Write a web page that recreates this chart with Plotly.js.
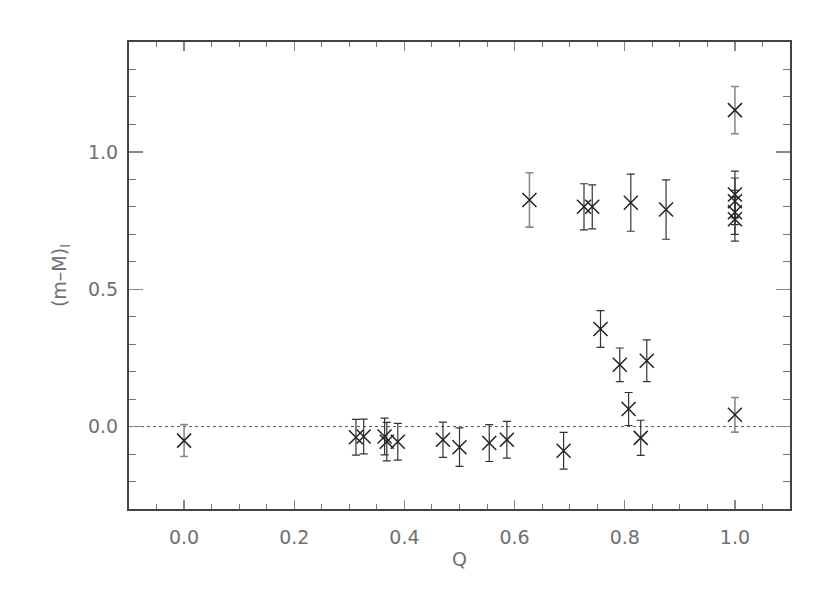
<!DOCTYPE html>
<html>
<head>
<meta charset="utf-8">
<script src="https://cdn.plot.ly/plotly-3.0.1.min.js"></script>
<style>
  html, body { margin: 0; padding: 0; background: #fff; }
  #plot { width: 830px; height: 594px; }
</style>
</head>
<body>
<div id="plot"></div>
<script>
// Data: Q vs (m-M)_I with 1-sigma errors
// dark error bars
const q_dark = [0.312, 0.326, 0.364, 0.368, 0.388, 0.470, 0.500, 0.554, 0.586, 0.689,
                0.726, 0.741, 0.756, 0.791, 0.807, 0.811, 0.829, 0.840, 0.875,
                1.0, 1.0, 1.0, 1.0];
const m_dark = [-0.039, -0.036, -0.036, -0.055, -0.055, -0.048, -0.075, -0.060, -0.048, -0.088,
                0.800, 0.800, 0.355, 0.225, 0.064, 0.815, -0.041, 0.240, 0.790,
                0.845, 0.820, 0.780, 0.755];
const e_dark = [0.065, 0.063, 0.067, 0.070, 0.067, 0.064, 0.070, 0.067, 0.067, 0.067,
                0.084, 0.080, 0.067, 0.061, 0.060, 0.104, 0.064, 0.076, 0.108,
                0.085, 0.085, 0.080, 0.080];

// lighter (grey) error bars
const q_grey = [0.0, 0.627, 1.0, 1.0];
const m_grey = [-0.051, 0.825, 1.152, 0.043];
const e_grey = [0.058, 0.099, 0.086, 0.063];

const xTicks = [0.0, 0.2, 0.4, 0.6, 0.8, 1.0];
const xTickText = ['0.0', '0.2', '0.4', '0.6', '0.8', '1.0'];
const yTicks = [0.0, 0.5, 1.0];
const yTickText = ['0.0', '0.5', '1.0'];

const markStyle = {symbol: 'x-thin-open', size: 14, color: '#222', line: {width: 1.5, color: '#222'}};

const traces = [
  {
    x: q_grey, y: m_grey, mode: 'markers', type: 'scatter',
    marker: markStyle,
    error_y: {type: 'data', array: e_grey, visible: true, color: '#8a8a8a', thickness: 1.6, width: 4}
  },
  {
    x: q_dark, y: m_dark, mode: 'markers', type: 'scatter',
    marker: markStyle,
    error_y: {type: 'data', array: e_dark, visible: true, color: '#333', thickness: 1.2, width: 4}
  }
];

const axisFont = {family: 'DejaVu Sans', size: 19, color: '#707070'};

const layout = {
  width: 830, height: 594,
  margin: {l: 129, r: 40, t: 42, b: 85},
  paper_bgcolor: '#fff', plot_bgcolor: '#fff',
  showlegend: false,
  font: axisFont,
  xaxis: {
    range: [-0.1, 1.1],
    tickvals: xTicks, ticktext: xTickText,
    ticks: 'inside', ticklen: 9, tickwidth: 1.4, tickcolor: '#888',
    minor: {dtick: 0.05, ticks: 'inside', ticklen: 5, tickwidth: 1, tickcolor: '#777'},
    showline: true, linecolor: '#444', linewidth: 2, mirror: 'allticks',
    showgrid: false, zeroline: false,
    tickfont: axisFont, ticklabelstandoff: 10,
    title: {text: 'Q', font: axisFont, standoff: 6}
  },
  yaxis: {
    range: [-0.3, 1.4],
    tickvals: yTicks, ticktext: yTickText,
    ticks: 'inside', ticklen: 14, tickwidth: 1.4, tickcolor: '#888',
    minor: {dtick: 0.1, ticks: 'inside', ticklen: 7, tickwidth: 1, tickcolor: '#777'},
    showline: true, linecolor: '#444', linewidth: 2, mirror: 'allticks',
    showgrid: false, zeroline: false,
    tickfont: axisFont, ticklabelstandoff: 5,
    title: {text: '(m\u2013M)<sub>I</sub>', font: axisFont, standoff: 16}
  },
  shapes: [{
    type: 'line', xref: 'paper', x0: 0, x1: 1, yref: 'y', y0: 0, y1: 0,
    line: {color: '#555', width: 1, dash: 'dot'}, layer: 'below'
  }]
};

Plotly.newPlot('plot', traces, layout, {staticPlot: true});
</script>
</body>
</html>
